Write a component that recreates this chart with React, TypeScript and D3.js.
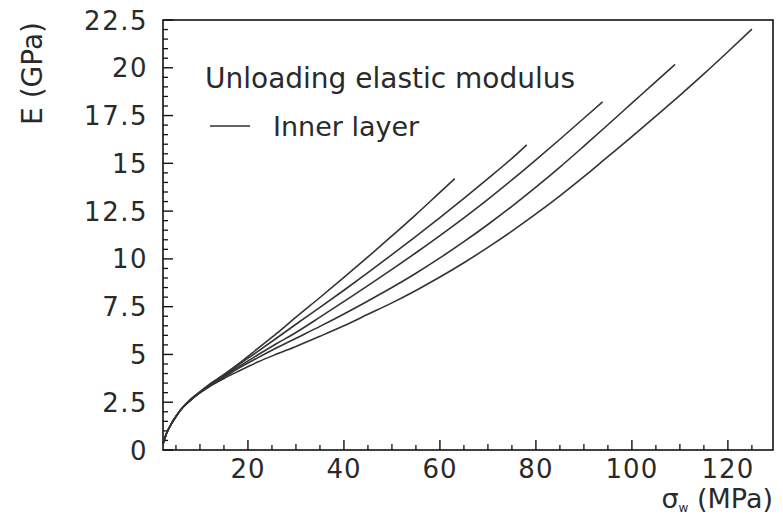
import React from "react";
import * as d3 from "d3";

// sigma_w (MPa) sample points shared by all curves
const sigmaGrid = [2.3, 3, 4, 5, 6, 8, 10, 12, 15, 18, 22, 26, 30, 35, 40, 45, 50, 55, 60, 65, 70, 75, 80, 85, 90, 95, 100, 105, 110, 115, 120];

// E (GPa) for each curve, aligned with sigmaGrid (as far as each curve goes)
const curveA = [0.3, 0.85, 1.35, 1.75, 2.1, 2.65, 3.05, 3.45, 3.95, 4.5, 5.3, 6.1, 6.95, 7.98, 9.03, 10.1, 11.2, 12.32, 13.48];
const curveB = [0.3, 0.85, 1.35, 1.75, 2.1, 2.6, 3.0, 3.4, 3.9, 4.45, 5.15, 5.86, 6.58, 7.46, 8.36, 9.28, 10.22, 11.18, 12.16, 13.17, 14.2, 15.26];
const curveC = [0.3, 0.85, 1.35, 1.75, 2.1, 2.6, 3.0, 3.35, 3.85, 4.35, 4.97, 5.57, 6.15, 6.95, 7.77, 8.6, 9.45, 10.32, 11.22, 12.15, 13.12, 14.13, 15.18, 16.26, 17.36];
const curveD = [0.3, 0.85, 1.35, 1.75, 2.1, 2.6, 3.0, 3.35, 3.8, 4.27, 4.82, 5.35, 5.85, 6.47, 7.12, 7.8, 8.5, 9.25, 10.05, 10.9, 11.8, 12.75, 13.75, 14.8, 15.9, 17.02, 18.15, 19.28];
const curveE = [0.3, 0.85, 1.35, 1.75, 2.1, 2.6, 3.0, 3.32, 3.74, 4.12, 4.6, 5.02, 5.42, 5.95, 6.5, 7.1, 7.7, 8.35, 9.05, 9.8, 10.6, 11.45, 12.35, 13.3, 14.3, 15.35, 16.4, 17.47, 18.56, 19.68, 20.84];

// last point of each curve
const endSigma = [63.1, 78.1, 93.9, 109, 125];
const endE = [14.2, 15.97, 18.22, 20.18, 22.02];

const xTickValues = [20, 40, 60, 80, 100, 120];
const yTickLabels = ["0", "2.5", "5", "7.5", "10", "12.5", "15", "17.5", "20", "22.5"];

const W = 783;
const H = 517;
const left = 163;
const right = 773;
const top = 20;
const bottom = 450;

const FONT = "'DejaVu Sans', sans-serif";
const INK = "#2a2a2a";

export default function App() {
  const x = d3.scaleLinear().domain([2.3, 129.4]).range([left, right]);
  const y = d3.scaleLinear().domain([0, 22.5]).range([bottom, top]);

  const curves = [curveA, curveB, curveC, curveD, curveE].map((vals, i) => {
    const pts: [number, number][] = vals.map((v, j) => [sigmaGrid[j], v]);
    pts.push([endSigma[i], endE[i]]);
    return pts;
  });

  const line = d3
    .line<[number, number]>()
    .x(d => x(d[0]))
    .y(d => y(d[1]))
    .curve(d3.curveMonotoneX);

  const xMinor = d3.range(5, 130, 5).filter(v => v % 20 !== 0);
  const yMinor = d3.range(0.5, 22.5, 0.5).filter(v => Math.abs(v / 2.5 - Math.round(v / 2.5)) > 1e-6);

  return (
    <svg
      width={W}
      height={H}
      style={{ position: "absolute", left: 0, top: 0, background: "#fff" }}
    >
      {/* frame */}
      <rect x={left} y={top} width={right - left} height={bottom - top} fill="none" stroke="#111" strokeWidth={1.6} />

      {/* x ticks */}
      {xMinor.map(v => (
        <line key={"xm" + v} x1={x(v)} x2={x(v)} y1={bottom} y2={bottom - (v % 10 === 0 ? 6 : 5)} stroke="#111" strokeWidth={1.3} />
      ))}
      {xTickValues.map(v => (
        <g key={"x" + v}>
          <line x1={x(v)} x2={x(v)} y1={bottom} y2={bottom - 10} stroke="#111" strokeWidth={1.4} />
          <text x={x(v)} y={478} textAnchor="middle" fontFamily={FONT} fontSize={26} fill={INK} letterSpacing={1}>
            {v}
          </text>
        </g>
      ))}

      {/* y ticks */}
      {yMinor.map(v => (
        <line key={"ym" + v} x1={left} x2={left + 5} y1={y(v)} y2={y(v)} stroke="#111" strokeWidth={1.3} />
      ))}
      {yTickLabels.map(t => (
        <g key={"y" + t}>
          <line x1={left} x2={left + 10} y1={y(+t)} y2={y(+t)} stroke="#111" strokeWidth={1.4} />
          <text x={148} y={y(+t) + 9.5} textAnchor="end" fontFamily={FONT} fontSize={26} fill={INK} letterSpacing={1.5}>
            {t}
          </text>
        </g>
      ))}

      {/* curves */}
      {curves.map((pts, i) => (
        <path key={i} d={line(pts) || ""} fill="none" stroke="#333" strokeWidth={1.6} />
      ))}

      {/* annotation / legend */}
      <text x={205} y={88} fontFamily={FONT} fontSize={28} fill={INK}>
        Unloading elastic modulus
      </text>
      <line x1={210} x2={250} y1={126} y2={126} stroke="#333" strokeWidth={1.6} />
      <text x={273} y={136} fontFamily={FONT} fontSize={27} fill={INK}>
        Inner layer
      </text>

      {/* axis titles */}
      <text
        transform="translate(42,22) rotate(-90)"
        textAnchor="end"
        fontFamily={FONT}
        fontSize={28}
        fill={INK}
      >
        E (GPa)
      </text>
      <text x={773} y={508} textAnchor="end" fontFamily={FONT} fontSize={27} fill={INK}>
        σ<tspan fontSize={12} dy={4}>w</tspan>
        <tspan dy={-4}> (MPa)</tspan>
      </text>
    </svg>
  );
}
